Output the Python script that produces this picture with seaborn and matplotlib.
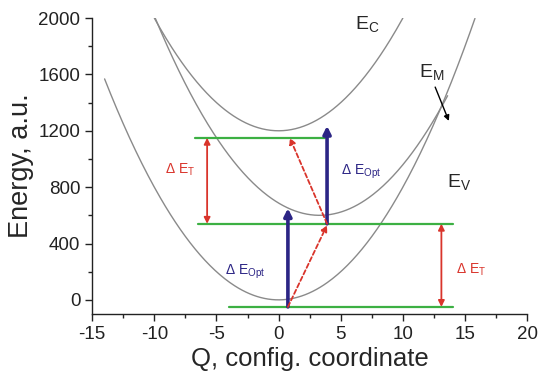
"""Configuration coordinate diagram: E_V, E_M, E_C parabolas with transitions"""
import numpy as np
import matplotlib
matplotlib.use("Agg")
import matplotlib.pyplot as plt
import seaborn as sns
import pandas as pd

# parabola parameters: E = k (Q - Q0)^2 + Emin
curve_names = ["E_V", "E_M", "E_C"]
curve_q0 = [0.0, 3.3, 0.0]
curve_emin = [0.0, 600.0, 1200.0]
curve_k = [8.0, 8.0, 8.0]
curve_qstart = [-14.0, -9.93, -10.0]
curve_qend = [15.8, 13.6, 10.0]

# green energy levels
level_e = [1150, 540, -50]
level_qstart = [-6.7, -6.5, -4.0]
level_qend = [3.7, 14.0, 14.0]

# thermal (red, double headed) arrows
therm_q = [-5.75, 13.1]
therm_e_top = [1150, 540]
therm_e_bot = [540, -50]

# optical (blue) arrows
opt_q = [0.75, 3.9]
opt_e_from = [-50, 540]
opt_e_to = [650, 1235]

# dashed red relaxation arrows
dash_q_from = [0.75, 3.9]
dash_e_from = [-50, 540]
dash_q_to = [3.9, 0.9]
dash_e_to = [530, 1150]

sns.set_style("ticks")
plt.rcParams["font.family"] = ["Liberation Sans", "DejaVu Sans"]
plt.rcParams["mathtext.fontset"] = "custom"
plt.rcParams["mathtext.rm"] = "Liberation Sans"
plt.rcParams["axes.unicode_minus"] = False

fig = plt.figure(figsize=(5.39, 3.76), dpi=100)
ax = fig.add_axes([0.171, 0.165, 0.807, 0.787])

rows = []
for name, q0, e0, k, qa, qb in zip(curve_names, curve_q0, curve_emin, curve_k,
                                    curve_qstart, curve_qend):
    q = np.linspace(qa, qb, 300)
    for qi in q:
        rows.append({"Q": qi, "E": k * (qi - q0) ** 2 + e0, "curve": name})
df = pd.DataFrame(rows)
sns.lineplot(data=df, x="Q", y="E", units="curve", estimator=None, sort=False,
             color="#8a8a8a", linewidth=1.0, ax=ax, legend=False)

green = "#3cb043"
red = "#d9342b"
blue = "#2c2585"

for e, qa, qb in zip(level_e, level_qstart, level_qend):
    ax.plot([qa, qb], [e, e], color=green, linewidth=1.6)

for q, et, eb in zip(therm_q, therm_e_top, therm_e_bot):
    ax.annotate("", xy=(q, et), xytext=(q, eb),
                arrowprops=dict(arrowstyle="<|-|>", color=red, lw=1.3,
                                mutation_scale=9, shrinkA=0, shrinkB=0))

for q, ea, eb in zip(opt_q, opt_e_from, opt_e_to):
    ax.annotate("", xy=(q, eb), xytext=(q, ea),
                arrowprops=dict(arrowstyle="-|>", color=blue, lw=2.6,
                                mutation_scale=11, shrinkA=0, shrinkB=0))

for qa, ea, qb, eb in zip(dash_q_from, dash_e_from, dash_q_to, dash_e_to):
    ax.annotate("", xy=(qb, eb), xytext=(qa, ea),
                arrowprops=dict(arrowstyle="-|>", color=red, lw=1.3, ls=(0, (2.5, 1.5)),
                                mutation_scale=9, shrinkA=0, shrinkB=0))

# labels
ax.text(-7.9, 920, r"$\Delta$ E$_\mathrm{T}$", color=red, fontsize=10, ha="center", va="center")
ax.text(15.5, 210, r"$\Delta$ E$_\mathrm{T}$", color=red, fontsize=10, ha="center", va="center")
ax.text(-2.7, 200, r"$\Delta$ E$_\mathrm{Opt}$", color=blue, fontsize=10, ha="center", va="center")
ax.text(6.6, 905, r"$\Delta$ E$_\mathrm{Opt}$", color=blue, fontsize=10, ha="center", va="center")
ax.text(7.1, 1950, r"E$_\mathrm{C}$", fontsize=14, ha="center", va="center")
ax.text(12.3, 1610, r"E$_\mathrm{M}$", fontsize=14, ha="center", va="center")
ax.text(14.5, 830, r"E$_\mathrm{V}$", fontsize=14, ha="center", va="center")
ax.annotate("", xy=(13.7, 1270), xytext=(12.6, 1510),
            arrowprops=dict(arrowstyle="-|>", color="black", lw=1.0,
                            mutation_scale=8, shrinkA=0, shrinkB=0))

ax.set_xlim(-15, 20)
ax.set_ylim(-100, 2000)
ax.set_xticks([-15, -10, -5, 0, 5, 10, 15, 20])
ax.set_yticks([0, 400, 800, 1200, 1600, 2000])
ax.set_xticks(np.arange(-12.5, 20, 5), minor=True)
ax.set_yticks(np.arange(200, 2000, 400), minor=True)
ax.tick_params(axis="both", which="major", labelsize=13.5, length=5, width=1,
               direction="out", colors="#222222")
ax.tick_params(axis="both", which="minor", length=3, width=1, direction="out",
               colors="#222222")
for side in ["left", "bottom"]:
    ax.spines[side].set_linewidth(1.0)
    ax.spines[side].set_color("#222222")
sns.despine(ax=ax)

ax.set_xlabel("Q, config. coordinate", fontsize=18.5, labelpad=3)
ax.set_ylabel("Energy, a.u.", fontsize=19.5, labelpad=3)

fig.savefig("out.png", dpi=100)
plt.close(fig)
